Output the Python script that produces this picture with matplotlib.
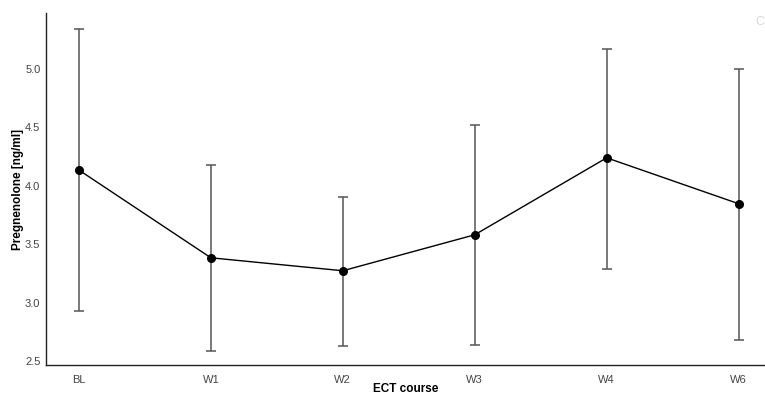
import matplotlib
matplotlib.use("Agg")
import matplotlib.pyplot as plt

# Pregnenolone over the ECT course: mean with error range
timepoints = ["BL", "W1", "W2", "W3", "W4", "W6"]
mean_vals = [4.135, 3.384, 3.273, 3.581, 4.240, 3.847]
upper_vals = [5.345, 4.180, 3.907, 4.523, 5.174, 5.000]
lower_vals = [2.930, 2.588, 2.631, 2.640, 3.290, 2.683]

plt.rcParams["font.family"] = ["Liberation Sans", "DejaVu Sans"]

fig = plt.figure(figsize=(7.65, 3.94), dpi=100)
ax = fig.add_axes([0.0601, 0.0736, 0.9399, 0.8934])

x = list(range(len(timepoints)))
err_low = [m - l for m, l in zip(mean_vals, lower_vals)]
err_high = [u - m for m, u in zip(mean_vals, upper_vals)]

ax.errorbar(x, mean_vals, yerr=[err_low, err_high], fmt="none",
            ecolor="#555555", elinewidth=1.1, capsize=3.5, capthick=1.1, zorder=2)
ax.plot(x, mean_vals, color="black", linewidth=1.0, marker="o",
        markersize=5.5, zorder=3)

ax.set_xlim(-0.25, 5.2)
ax.set_ylim(2.466, 5.48)
ax.set_xticks(x)
ax.set_xticklabels(timepoints)
ax.set_yticks([2.5, 3.0, 3.5, 4.0, 4.5, 5.0])
ax.set_yticklabels(["2.5", "3.0", "3.5", "4.0", "4.5", "5.0"])
ax.tick_params(length=0, labelsize=8, colors="#444444")
ax.tick_params(axis="y", pad=4)
ax.tick_params(axis="x", pad=7)

for side in ["top", "right"]:
    ax.spines[side].set_visible(False)
for side in ["left", "bottom"]:
    ax.spines[side].set_color("#222222")
    ax.spines[side].set_linewidth(1.0)

ax.set_xlabel("ECT course", fontsize=8.5, fontweight="bold")
ax.xaxis.set_label_coords(0.5, -0.05)
ax.set_ylabel("Pregnenolone [ng/ml]", fontsize=8.5, fontweight="bold")
ax.yaxis.set_label_coords(-0.031, 0.5)

fig.text(0.988, 0.945, "C", fontsize=9, color="#d8d8d8", ha="left", va="center")

fig.savefig("out.png", dpi=100)
